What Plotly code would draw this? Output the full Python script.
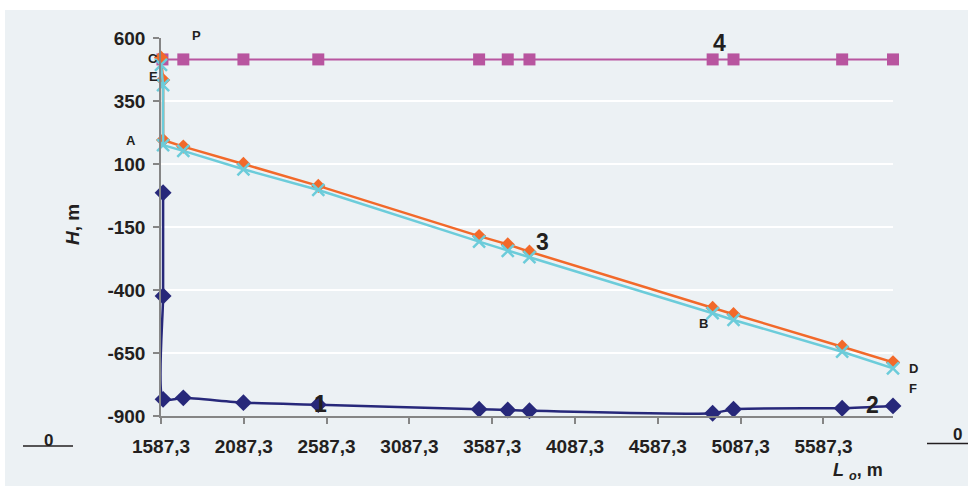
import plotly.graph_objects as go

# Distance along the profile, m
L_blue = [1600, 1600, 1600, 1722, 2085, 2537, 3508, 3681, 3812, 4918, 5044, 5700, 6007]
H_blue = [-14, -424, -834, -828, -847, -855, -873, -876, -879, -889, -873, -869, -860]

L_line = [1587.3, 1600, 1600, 1722, 2085, 2537, 3508, 3681, 3812, 4918, 5044, 5700, 6007]
H_orange = [522, 433, 195, 169, 100, 13, -186, -219, -248, -471, -496, -625, -687]
H_cyan = [493, 413, 175, 152, 79, -3, -208, -245, -270, -492, -519, -645, -711]

L_top = [1596, 1722, 2085, 2537, 3508, 3681, 3812, 4918, 5044, 5700, 6007]
H_top = [515, 515, 515, 515, 515, 515, 515, 515, 515, 515, 515]

x_ticks = [1587.3 + 500 * k for k in range(9)]
x_tick_text = [f"{v:.1f}".replace(".", ",") for v in x_ticks]
y_ticks = [-900, -650, -400, -150, 100, 350, 600]
y_tick_text = [str(v) for v in y_ticks]

NAVY = "#27287A"
ORANGE = "#F2692A"
CYAN = "#6CCCDA"
MAGENTA = "#B8559F"
BG = "#ECF1F4"
TXT = "#231F20"
FONT = "Liberation Sans, Arial, sans-serif"

W, H = 968, 487
ML, MR, MT, MB = 161, 75, 38, 71
PW, PH = W - ML - MR, H - MT - MB


def px(x):
    # page pixel -> plot-area fraction (horizontal)
    return (x - ML) / PW


def py(y):
    # page pixel -> plot-area fraction (vertical)
    return (H - MB - y) / PH


fig = go.Figure()

fig.add_trace(go.Scatter(
    x=L_top, y=H_top, mode="lines+markers",
    line=dict(color=MAGENTA, width=2),
    marker=dict(symbol="square", size=12, color=MAGENTA),
    cliponaxis=False,
))
fig.add_trace(go.Scatter(
    x=L_blue, y=H_blue, mode="lines+markers",
    line=dict(color=NAVY, width=2.5, shape="spline", smoothing=0.6),
    marker=dict(symbol="diamond", size=13, color=NAVY),
    cliponaxis=False,
))
fig.add_trace(go.Scatter(
    x=L_line, y=H_orange, mode="lines+markers",
    line=dict(color=ORANGE, width=2.5),
    marker=dict(symbol="diamond", size=11, color=ORANGE),
    cliponaxis=False,
))
fig.add_trace(go.Scatter(
    x=L_line, y=H_cyan, mode="lines+markers",
    line=dict(color=CYAN, width=2.5),
    marker=dict(symbol="x-thin", size=12, color=CYAN,
                line=dict(color=CYAN, width=2.5)),
    cliponaxis=False,
))

# point letters and curve numbers (page pixel positions)
small = [("P", 196, 36), ("C", 153, 58), ("E", 153, 77), ("A", 131, 140),
         ("B", 703, 323), ("D", 913, 368), ("F", 913, 388)]
big = [("4", 719, 43), ("3", 542, 242), ("1", 320, 404), ("2", 872, 405)]
for t, x, y in small:
    fig.add_annotation(x=px(x), y=py(y), xref="paper", yref="paper", text=f"<b>{t}</b>",
                       showarrow=False, font=dict(family=FONT, size=13, color=TXT),
                       xanchor="center", yanchor="middle")
for t, x, y in big:
    fig.add_annotation(x=px(x), y=py(y), xref="paper", yref="paper", text=f"<b>{t}</b>",
                       showarrow=False, font=dict(family=FONT, size=23, color=TXT),
                       xanchor="center", yanchor="middle")

# zero marks outside the plot
fig.add_annotation(x=px(48), y=py(440), xref="paper", yref="paper", text="<b>0</b>",
                   showarrow=False, font=dict(family=FONT, size=17, color=TXT),
                   xanchor="center", yanchor="middle")
fig.add_annotation(x=px(957), y=py(434), xref="paper", yref="paper", text="<b>0</b>",
                   showarrow=False, font=dict(family=FONT, size=17, color=TXT),
                   xanchor="center", yanchor="middle")

# axis titles
fig.add_annotation(x=px(73), y=py(225), xref="paper", yref="paper",
                   text="<b><i>H</i>, m</b>", textangle=-90, showarrow=False,
                   font=dict(family=FONT, size=19, color=TXT),
                   xanchor="center", yanchor="middle")
fig.add_annotation(x=px(858), y=py(471), xref="paper", yref="paper",
                   text="<b><i>L</i> <sub><i>o</i></sub>, m</b>", showarrow=False,
                   font=dict(family=FONT, size=18, color=TXT),
                   xanchor="center", yanchor="middle")

shapes = [
    dict(type="rect", xref="paper", yref="paper", x0=px(5), x1=px(W), y0=py(486), y1=py(10),
         fillcolor=BG, line=dict(width=0), layer="below"),
    dict(type="line", xref="paper", yref="paper", x0=px(23), x1=px(73), y0=py(446), y1=py(446),
         line=dict(color=TXT, width=1.5)),
    dict(type="line", xref="paper", yref="paper", x0=px(927), x1=px(W), y0=py(443.5), y1=py(443.5),
         line=dict(color=TXT, width=1.5)),
]

fig.update_layout(
    width=W, height=H,
    margin=dict(l=ML, r=MR, t=MT, b=MB),
    paper_bgcolor="white",
    plot_bgcolor=BG,
    showlegend=False,
    shapes=shapes,
    font=dict(family=FONT, color=TXT),
)
fig.update_xaxes(
    range=[1587.3, 6007], tickvals=x_ticks, ticktext=x_tick_text,
    showgrid=False, zeroline=False,
    showline=True, linecolor="#858585", linewidth=1.5,
    ticks="outside", ticklen=6, tickcolor="#858585", tickwidth=1.5,
    ticklabelstandoff=6,
    tickfont=dict(family=FONT, size=19, color=TXT, weight="bold"),
)
fig.update_yaxes(
    range=[-900, 600], tickvals=y_ticks, ticktext=y_tick_text,
    showgrid=True, gridcolor="white", gridwidth=1.5, zeroline=False,
    showline=True, linecolor="#858585", linewidth=1.5,
    ticks="outside", ticklen=6, tickcolor="#858585", tickwidth=1.5,
    ticklabelstandoff=4,
    tickfont=dict(family=FONT, size=19, color=TXT, weight="bold"),
)

fig.write_html("out.html")
